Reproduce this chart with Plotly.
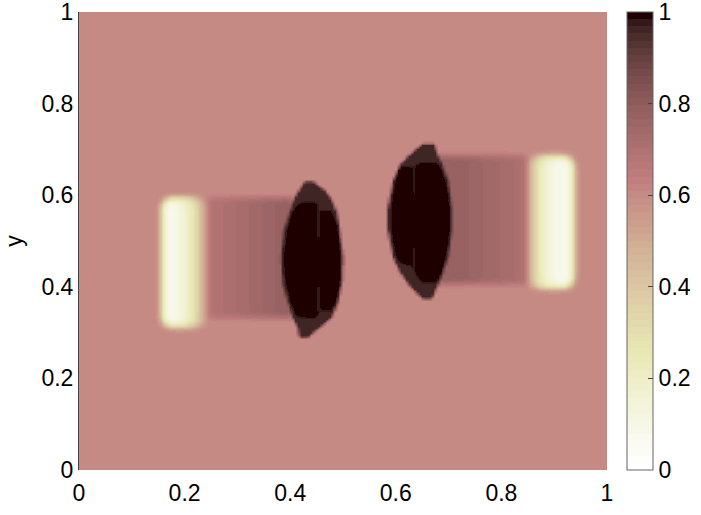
import numpy as np
import plotly.graph_objects as go

# ---------------------------------------------------------------------------
# Field description (unit square, values in [0, 1])
# ---------------------------------------------------------------------------
AMBIENT = 0.60

# wakes: vertical strips between consecutive x edges, each with its level
LEFT_WAKE_EDGES = [0.244, 0.258, 0.274, 0.290, 0.306, 0.322, 0.338, 0.354,
                   0.370, 0.386, 0.405]
LEFT_WAKE_LEVEL = [0.69, 0.70, 0.71, 0.72, 0.73, 0.74, 0.75, 0.76, 0.77, 0.78]
LEFT_WAKE_SPAN = [0.334, 0.595]

RIGHT_WAKE_EDGES = [0.676, 0.700, 0.716, 0.732, 0.748, 0.764, 0.780, 0.796,
                    0.812, 0.828, 0.846]
RIGHT_WAKE_LEVEL = [0.78, 0.775, 0.77, 0.765, 0.755, 0.745, 0.74, 0.73, 0.72, 0.71]
RIGHT_WAKE_SPAN = [0.408, 0.688]

# rarefied bands: nested rounded layers (outer first)
LEFT_BAND_X0 = [0.155, 0.156, 0.156, 0.157, 0.159]
LEFT_BAND_X1 = [0.238, 0.228, 0.217, 0.204, 0.190]
LEFT_BAND_INSET = [0.0, 0.0, 0.002, 0.006, 0.011]
LEFT_BAND_LEVEL = [0.46, 0.35, 0.24, 0.15, 0.09]
LEFT_BAND_SPAN = [0.311, 0.597]

RIGHT_BAND_X0 = [0.851, 0.859, 0.867, 0.879, 0.893]
RIGHT_BAND_X1 = [0.937, 0.936, 0.936, 0.935, 0.933]
RIGHT_BAND_INSET = [0.0, 0.0, 0.002, 0.006, 0.011]
RIGHT_BAND_LEVEL = [0.46, 0.35, 0.24, 0.15, 0.09]
RIGHT_BAND_SPAN = [0.396, 0.689]

# dense bodies: outline (rim level), core (peak level), and the thin seams
RIM_LEVEL = 0.96
CORE_LEVEL = 1.00
SEAM_LEVEL = 0.955

LEFT_BODY_X = [0.428, 0.424, 0.415, 0.405, 0.396, 0.386, 0.381, 0.384, 0.394,
               0.403, 0.413, 0.415, 0.418, 0.434, 0.4375, 0.456, 0.479, 0.490,
               0.498, 0.500, 0.494, 0.489, 0.479, 0.466, 0.447, 0.443]
LEFT_BODY_Y = [0.631, 0.627, 0.611, 0.590, 0.561, 0.524, 0.465, 0.408, 0.365,
               0.334, 0.312, 0.295, 0.289, 0.289, 0.295, 0.312, 0.334, 0.365,
               0.408, 0.465, 0.524, 0.561, 0.590, 0.611, 0.627, 0.631]
LEFT_CORE_X = [0.421, 0.449, 0.451, 0.455, 0.478, 0.485, 0.4895, 0.495, 0.493,
               0.485, 0.478, 0.456, 0.452, 0.446, 0.412, 0.400, 0.390, 0.387,
               0.392, 0.402, 0.412]
LEFT_CORE_Y = [0.585, 0.585, 0.568, 0.568, 0.566, 0.545, 0.524, 0.465, 0.408,
               0.365, 0.350, 0.350, 0.340, 0.333, 0.336, 0.365, 0.408, 0.465,
               0.524, 0.561, 0.578]
LEFT_SEAM_X = 0.4525
LEFT_SEAMS = [[0.509, 0.570], [0.348, 0.404]]

RIGHT_BODY_X = [0.650, 0.672, 0.674, 0.678, 0.6875, 0.699, 0.706, 0.706, 0.699,
                0.689, 0.678, 0.670, 0.666, 0.650, 0.646, 0.627, 0.608, 0.593,
                0.583, 0.583, 0.593, 0.608, 0.627, 0.646]
RIGHT_BODY_Y = [0.714, 0.714, 0.710, 0.692, 0.670, 0.633, 0.574, 0.524, 0.465,
                0.430, 0.400, 0.378, 0.374, 0.374, 0.378, 0.400, 0.430, 0.465,
                0.524, 0.574, 0.633, 0.670, 0.692, 0.710]
RIGHT_CORE_X = [0.606, 0.631, 0.636, 0.646, 0.676, 0.684, 0.694, 0.701, 0.701,
                0.694, 0.685, 0.676, 0.648, 0.636, 0.625, 0.610, 0.600, 0.5895,
                0.5895, 0.599]
RIGHT_CORE_Y = [0.662, 0.662, 0.664, 0.672, 0.672, 0.660, 0.633, 0.574, 0.524,
                0.465, 0.430, 0.410, 0.410, 0.430, 0.448, 0.452, 0.465, 0.524,
                0.574, 0.633]
RIGHT_SEAM_X = 0.633
RIGHT_SEAMS = [[0.604, 0.664], [0.428, 0.487]]

TICKS = [0, 0.2, 0.4, 0.6, 0.8, 1]
TICK_TEXT = ["0", "0.2", "0.4", "0.6", "0.8", "1"]

# ---------------------------------------------------------------------------
# Raster: nodes every 0.005, each node the mean of 4x4 sub-samples
# ---------------------------------------------------------------------------
STEP = 0.005
NODES = 201
SUB = 4
nodes = np.round(np.arange(NODES) * STEP, 4)
sub = (np.arange(NODES * SUB) + 0.5) * (STEP / SUB) - STEP / 2
SX, SY = np.meshgrid(sub, sub)


def in_polygon(px, py):
    inside = np.zeros(SX.shape, dtype=bool)
    j = len(px) - 1
    for i in range(len(px)):
        xi, yi, xj, yj = px[i], py[i], px[j], py[j]
        if yi != yj:
            crosses = (yi > SY) != (yj > SY)
            xcross = (xj - xi) * (SY - yi) / (yj - yi) + xi
            inside ^= crosses & (SX < xcross)
        j = i
    return inside


def in_rect(x0, x1, y0, y1):
    return (SX >= x0) & (SX <= x1) & (SY >= y0) & (SY <= y1)


def rounded_rect(x0, x1, y0, y1, rx=0.02, ry=0.024, n=12):
    rx = min(rx, (x1 - x0) / 2)
    ry = min(ry, (y1 - y0) / 2)
    xs, ys = [], []
    centres = [(x1 - rx, y1 - ry, 0), (x0 + rx, y1 - ry, 90),
               (x0 + rx, y0 + ry, 180), (x1 - rx, y0 + ry, 270)]
    for cx, cy, a0 in centres:
        t = np.radians(np.linspace(a0, a0 + 90, n))
        xs.extend(cx + rx * np.cos(t))
        ys.extend(cy + ry * np.sin(t))
    return xs, ys


def to_nodes(a):
    return a.reshape(NODES, SUB, NODES, SUB).mean(axis=(1, 3))


def soften(a, kernel=(1, 2, 3, 2, 1)):
    k = np.asarray(kernel, float)
    k /= k.sum()
    h = len(k) // 2
    p = np.pad(a, h, mode="edge")
    p = np.apply_along_axis(lambda r: np.convolve(r, k, mode="valid"), 1, p)
    p = np.apply_along_axis(lambda c: np.convolve(c, k, mode="valid"), 0, p)
    return p


# soft layer: ambient level, wakes and bands
S = np.full(SX.shape, AMBIENT)
for edges, levels, span in ((LEFT_WAKE_EDGES, LEFT_WAKE_LEVEL, LEFT_WAKE_SPAN),
                            (RIGHT_WAKE_EDGES, RIGHT_WAKE_LEVEL, RIGHT_WAKE_SPAN)):
    for k, lev in enumerate(levels):
        S[in_rect(edges[k], edges[k + 1], span[0], span[1])] = lev

for x0s, x1s, insets, levels, span in (
        (LEFT_BAND_X0, LEFT_BAND_X1, LEFT_BAND_INSET, LEFT_BAND_LEVEL, LEFT_BAND_SPAN),
        (RIGHT_BAND_X0, RIGHT_BAND_X1, RIGHT_BAND_INSET, RIGHT_BAND_LEVEL, RIGHT_BAND_SPAN)):
    for x0, x1, ins, lev in zip(x0s, x1s, insets, levels):
        rx, ry = rounded_rect(x0, x1, span[0] + ins, span[1] - ins)
        S[in_polygon(rx, ry)] = lev

z_soft = soften(to_nodes(S))

# crisp layer: dense bodies painted over the soft layer
B = np.zeros(SX.shape)
M = np.zeros(SX.shape, dtype=bool)
for bx, by, cx, cy, seam_x, seams in (
        (LEFT_BODY_X, LEFT_BODY_Y, LEFT_CORE_X, LEFT_CORE_Y, LEFT_SEAM_X, LEFT_SEAMS),
        (RIGHT_BODY_X, RIGHT_BODY_Y, RIGHT_CORE_X, RIGHT_CORE_Y, RIGHT_SEAM_X, RIGHT_SEAMS)):
    outline = in_polygon(bx, by)
    M |= outline
    B[outline] = RIM_LEVEL
    B[in_polygon(cx, cy)] = CORE_LEVEL
    for y0, y1 in seams:
        B[in_rect(seam_x - 0.002, seam_x + 0.002, y0, y1) & outline] = SEAM_LEVEL

cover = to_nodes(M.astype(float))
body_sum = to_nodes(B)
z = (1 - cover) * z_soft + body_sum

# ---------------------------------------------------------------------------
# Reversed 64-step "pink" colour map (white -> pink -> black)
# ---------------------------------------------------------------------------
m = 64
n = int(3 * m / 8)
pink = []
for k in range(m):
    gray = k / (m - 1)
    hr = (k + 1) / n if k < n else 1.0
    hg = 0.0 if k < n else ((k - n + 1) / n if k < 2 * n else 1.0)
    hb = 0.0 if k < 2 * n else (k - 2 * n + 1) / (m - 2 * n)
    rgb = [np.sqrt((2 * gray + h) / 3) for h in (hr, hg, hb)]
    pink.append("rgb(%d,%d,%d)" % tuple(int(round(255 * v)) for v in rgb))
pink_r = pink[::-1]
colorscale = []
for i, col in enumerate(pink_r):
    colorscale.append([i / m, col])
    colorscale.append([(i + 1) / m, col])

FONT = "Liberation Sans, Arial, sans-serif"
FS = 23

fig = go.Figure(
    go.Heatmap(
        x=nodes,
        y=nodes,
        z=z,
        zsmooth="best",
        zmin=0,
        zmax=1,
        colorscale=colorscale,
        hoverinfo="skip",
        colorbar=dict(
            x=(627 - 79) / 528,
            xanchor="left",
            xpad=0,
            y=0.5,
            yanchor="middle",
            ypad=0,
            len=1,
            lenmode="fraction",
            thickness=26,
            outlinewidth=1,
            outlinecolor="#666",
            tickvals=TICKS,
            ticktext=TICK_TEXT,
            ticks="inside",
            ticklen=5,
            tickwidth=1,
            tickcolor="#444",
            ticklabeloverflow="allow",
            tickfont=dict(family=FONT, size=FS, color="black"),
        ),
    )
)

fig.update_layout(
    width=701,
    height=515,
    margin=dict(l=79, r=94, t=12, b=45, autoexpand=False),
    paper_bgcolor="white",
    plot_bgcolor="white",
    font=dict(family=FONT, size=FS, color="black"),
)
fig.update_xaxes(
    range=[0, 1],
    tickvals=TICKS,
    ticktext=TICK_TEXT,
    showgrid=False,
    zeroline=False,
    showline=False,
    ticks="",
    ticklabelstandoff=7,
    ticklabeloverflow="allow",
    tickfont=dict(family=FONT, size=FS),
)
fig.update_yaxes(
    range=[0, 1],
    tickvals=TICKS,
    ticktext=TICK_TEXT,
    showgrid=False,
    zeroline=False,
    showline=True,
    linecolor="#444",
    linewidth=1,
    ticks="",
    ticklabeloverflow="allow",
    tickfont=dict(family=FONT, size=FS),
    title=dict(text="y", font=dict(family=FONT, size=FS), standoff=12),
)

fig.write_html("out.html")
